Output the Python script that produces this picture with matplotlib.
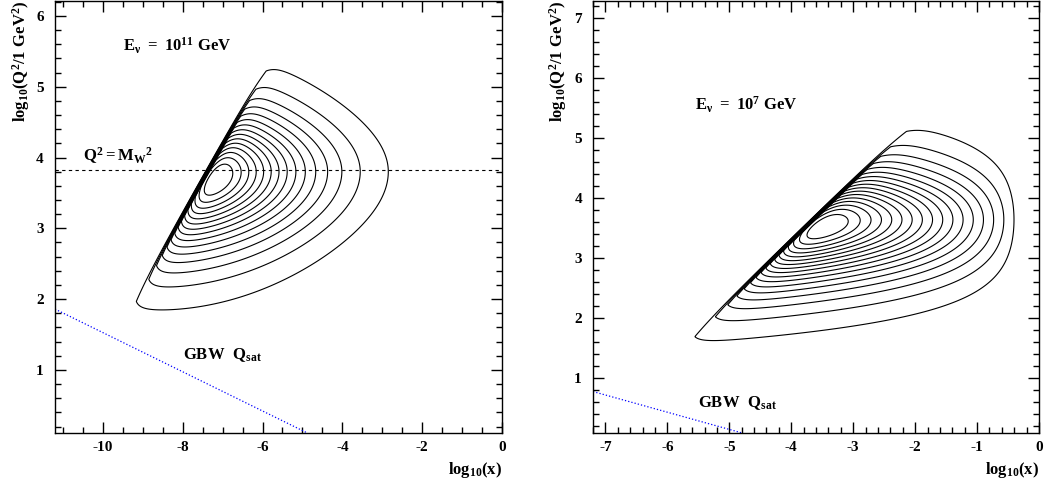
import numpy as np
import matplotlib
matplotlib.use("Agg")
import matplotlib.pyplot as plt
from matplotlib.ticker import MultipleLocator

plt.rcParams["font.family"] = ["Liberation Serif", "DejaVu Serif"]
plt.rcParams["font.weight"] = "bold"
plt.rcParams["axes.unicode_minus"] = False
plt.rcParams["mathtext.fontset"] = "custom"
plt.rcParams["mathtext.rm"] = "Liberation Serif:bold"
plt.rcParams["mathtext.it"] = "Liberation Serif:bold"
plt.rcParams["mathtext.bf"] = "Liberation Serif:bold"
plt.rcParams["mathtext.default"] = "rm"

# --- values (left: E = 1e11 GeV, right: E = 1e7 GeV) ---
energy_labels = [r"$E_\nu\ =\ 10^{11}\ GeV$", r"$E_\nu\ =\ 10^{7}\ GeV$"]
energy_text_pos = [(-9.5, 5.5), (-5.55, 5.46)]
gbw_text_pos = [(-8.0, 1.155), (-5.5, 0.52)]
x_limits = [(-11.2, 0.0), (-7.2, 0.0)]
y_limits = [(0.11, 6.21), (0.09, 7.28)]
x_minor = [0.5, 0.2]
x_major = [2, 1]

# kinematic limit y = 1:  log10(Q2) = log10(x) + kin_edge
kin_edge = [11.13, 7.25]
# log10(Q2) where the rings turn around (near M_W^2)
ring_q2 = [3.8, 3.64]
# distance (decades in x) of the ridge from the kinematic edge
ridge_offset = [0.32, 0.42]
# fall-off of -ln(density) towards large x: linear + quadratic terms (left),
# linear density over ridge_width decades (right)
x_lin = [0.3, 0.0]
x_quad = [0.09, 0.0]
ridge_width = [0.0, 2.95]
# fall-off in Q2 above / below ring_q2
q2_slope_up = [1.21, 1.2]
q2_slope_dn = [1.13, 1.18]
# dip of the density right at the kinematic edge
edge_dip = [0.25, 0.25]
edge_dip_width = [0.2, 0.2]
# width of the drop-off across the edge
edge_blur = [0.11, 0.085]
n_levels = [16, 18]

# GBW saturation line end points
gbw_x = [[-11.2, -4.875], [-7.2, -4.79]]
gbw_y = [[1.86, 0.11], [0.78, 0.09]]

# Q2 = M_W^2 line (left panel only)
log_mw2 = 3.82


def density(u, v, i):
    du = u - (ring_q2[i] - kin_edge[i]) - ridge_offset[i]
    d = u + kin_edge[i] - v
    if ridge_width[i] > 0:
        g = -np.log(np.clip(1.0 - du / ridge_width[i], 1e-9, None))
    else:
        g = x_lin[i] * du + x_quad[i] * du ** 2
    dv = v - ring_q2[i]
    beta = np.where(dv > 0, q2_slope_up[i], q2_slope_dn[i])
    lnf = (-g - 2.0 * np.log(np.cosh(beta * dv))
           - edge_dip[i] * np.exp(-np.clip(d, 0, None) / edge_dip_width[i]))
    f = np.exp(lnf) * np.clip(1.0 + d / edge_blur[i], 0.0, 1.0)
    return f


fig = plt.figure(figsize=(10.45, 4.86), dpi=100)
axes = [fig.add_axes([0.0526, 0.109, 0.4278, 0.889]),
        fig.add_axes([0.5675, 0.109, 0.4268, 0.889])]

for i, ax in enumerate(axes):
    x0, x1 = x_limits[i]
    y0, y1 = y_limits[i]
    u = np.linspace(x0, x1, 2400)
    v = np.linspace(y0, y1, 1600)
    U, V = np.meshgrid(u, v)
    F = density(U, V, i)
    fmax = F.max()
    levels = fmax * np.arange(1, n_levels[i]) / n_levels[i]
    ax.contour(U, V, F, levels=levels, colors="black", linewidths=0.8)

    ax.plot(gbw_x[i], gbw_y[i], color="blue", linestyle=":", linewidth=0.9)
    ax.text(*gbw_text_pos[i], r"$GBW\ \ Q_{sat}$", fontsize=12)
    ax.text(*energy_text_pos[i], energy_labels[i], fontsize=12)

    if i == 0:
        ax.axhline(log_mw2, color="black", linestyle=(0, (3, 3)), linewidth=0.8)
        ax.text(-10.5, 3.96, r"$Q^2=M_W{}^2$", fontsize=12)

    ax.set_xlim(x0, x1)
    ax.set_ylim(y0, y1)
    ax.xaxis.set_major_locator(MultipleLocator(x_major[i]))
    ax.xaxis.set_minor_locator(MultipleLocator(x_minor[i]))
    ax.yaxis.set_major_locator(MultipleLocator(1))
    ax.yaxis.set_minor_locator(MultipleLocator(0.2))
    ax.tick_params(which="both", direction="in", top=True, right=True,
                   labelsize=11, width=1)
    ax.tick_params(which="major", length=8)
    ax.tick_params(which="minor", length=4)
    ax.tick_params(axis="x", pad=6)
    ax.tick_params(axis="y", pad=8)
    for s in ax.spines.values():
        s.set_linewidth(1.0)

    ax.text(-0.076 if i == 0 else -0.078, 1.0, r"$log_{10}(Q^2/1\ GeV^2)$",
            rotation=90, transform=ax.transAxes, ha="center", va="top", fontsize=12)
    ax.text(1.0, -0.0855, r"$log_{10}(x)$", transform=ax.transAxes,
            ha="right", va="center", fontsize=12)

fig.savefig("out.png", dpi=100)
